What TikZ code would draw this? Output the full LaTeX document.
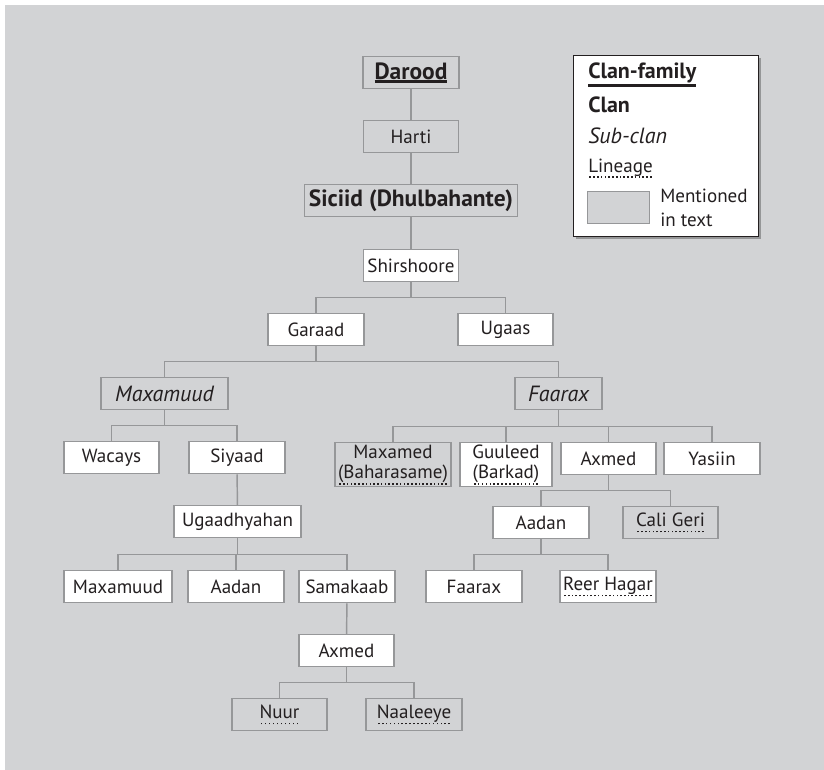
\documentclass[tikz,border=0pt]{standalone}
\usepackage{fontspec}
\setmainfont{PT Sans}
\usetikzlibrary{calc,shadows}
\definecolor{bg}{RGB}{210,211,213}
\definecolor{bd}{RGB}{150,151,153}
\definecolor{tx}{RGB}{35,31,32}
\newcommand\thickul[1]{\vtop{\hbox{#1}\kern0.6pt\hrule height 1.9pt}}
\newcommand\dotul[1]{\leavevmode\setbox0\hbox{#1}\rlap{\lower4.3pt\hbox to\wd0{\xleaders\hbox to 2.8pt{\hss\rule{1.2pt}{1.2pt}\hss}\hfill}}\box0}
\newcommand\branch[3]{%
  \coordinate (#1-j) at ($(#1.south)!0.5!(#1.south |- #2.north)$);
  \foreach \c in {#3}{\draw[conn] (#1.south) -- (#1-j) -| (\c.north);}}
\tikzset{
  box/.style={draw=bd, line width=1.1pt, anchor=north, minimum height=24pt, inner sep=1.5pt,
    align=center, text=tx, font=\fontsize{14.3}{15.5}\selectfont},
  gbox/.style={box, fill=bg},
  wbox/.style={box, fill=white},
  bw/.style={minimum width=#1*0.75pt},
  big/.style={font=\fontsize{17.6}{19}\selectfont\bfseries},
  ital/.style={font=\fontsize{16.5}{18}\selectfont\itshape},
  conn/.style={draw=bd, line width=1.1pt},
}
\begin{document}
\begin{tikzpicture}[x=0.75pt,y=-0.75pt]
\useasboundingbox (0,0) rectangle (824,770);
\fill[bg] (5,5) rectangle (824,770);
% tree nodes
\node[gbox,bw=96,big] (darood) at (411,56) {\thickul{Darood}};
\node[gbox,bw=95] (harti) at (411,120) {Harti};
\node[gbox,bw=213,big] (siciid) at (411,184) {Siciid (Dhulbahante)};
\node[wbox,bw=95] (shir) at (411,249) {Shirshoore};
\node[wbox,bw=96] (garaad) at (316,313) {Garaad};
\node[wbox,bw=95] (ugaas) at (505.5,313) {Ugaas};
\node[gbox,bw=127,ital] (maxa) at (164.5,377) {Maxamuud};
\node[gbox,bw=87,ital] (faarax) at (558.5,377) {Faarax};
\node[wbox,bw=95] (wacays) at (111.5,441) {Wacays};
\node[wbox,bw=96] (siyaad) at (237,441) {Siyaad};
\node[wbox,bw=127] (ugaad) at (237.5,505) {Ugaadhyahan};
\node[wbox,bw=108] (maxb2) at (118,570) {Maxamuud};
\node[wbox,bw=96] (aadan1) at (236,570) {Aadan};
\node[wbox,bw=96] (samak) at (347,570) {Samakaab};
\node[wbox,bw=95] (axmed1) at (346.5,634) {Axmed};
\node[gbox,bw=95] (nuur) at (279.5,698) {\dotul{Nuur}};
\node[gbox,bw=96] (naal) at (414,698) {\dotul{Naaleeye}};
\node[gbox,bw=116,minimum height=33pt] (maxbah) at (393,442) {Maxamed\\\dotul{(Baharasame)}};
\node[wbox,bw=92,minimum height=33pt] (guul) at (506,442) {Guuleed\\\dotul{(Barkad)}};
\node[wbox,bw=95] (axmed2) at (608.5,442) {Axmed};
\node[wbox,bw=96] (yasiin) at (712,442) {Yasiin};
\node[wbox,bw=96] (aadan2) at (541,506) {Aadan};
\node[gbox,bw=95] (cali) at (670.5,506) {\dotul{Cali Geri}};
\node[wbox,bw=96] (faarax2) at (474,570) {Faarax};
\node[wbox,bw=96] (reer) at (608,570) {\dotul{Reer Hagar}};
% connectors
\draw[conn] (darood) -- (harti);
\draw[conn] (harti) -- (siciid);
\draw[conn] (siciid) -- (shir);
\branch{shir}{garaad}{garaad,ugaas}
\branch{garaad}{maxa}{maxa,faarax}
\branch{maxa}{wacays}{wacays,siyaad}
\draw[conn] (siyaad) -- (ugaad);
\branch{ugaad}{maxb2}{maxb2,aadan1,samak}
\draw[conn] (samak) -- (axmed1);
\branch{axmed1}{nuur}{nuur,naal}
\branch{faarax}{axmed2}{maxbah,guul,axmed2,yasiin}
\branch{axmed2}{aadan2}{aadan2,cali}
\branch{aadan2}{faarax2}{faarax2,reer}
% legend
\node[draw=tx, line width=0.9pt, fill=white, minimum width=185*0.75pt, minimum height=181*0.75pt,
  anchor=north west, inner sep=0pt,
  drop shadow={shadow xshift=2pt, shadow yshift=-2pt, opacity=0.45, fill=black!70}] (leg) at (573,55) {};
\node[anchor=base west, inner sep=0pt, text=tx, font=\fontsize{16.5}{18}\selectfont\bfseries] (l1) at (588,79) {\thickul{Clan-family}};
\node[anchor=base west, inner sep=0pt, text=tx, font=\fontsize{16.5}{18}\selectfont\bfseries] (l2) at (588,113) {Clan};
\node[anchor=base west, inner sep=0pt, text=tx, font=\fontsize{16.5}{18}\selectfont\itshape] (l3) at (588,144) {Sub-clan};
\node[anchor=base west, inner sep=0pt, text=tx, font=\fontsize{14.3}{15.5}\selectfont] (l4) at (588,172) {\dotul{Lineage}};
\node[draw=bd, line width=1.1pt, fill=bg, anchor=north west, minimum width=62*0.75pt, minimum height=32*0.75pt] (l5) at (587,191) {};
\node[anchor=west, inner sep=0pt, align=left, text=tx, font=\fontsize{14.3}{17.5}\selectfont] (l6) at (660,208) {Mentioned\\in text};
\end{tikzpicture}
\end{document}
